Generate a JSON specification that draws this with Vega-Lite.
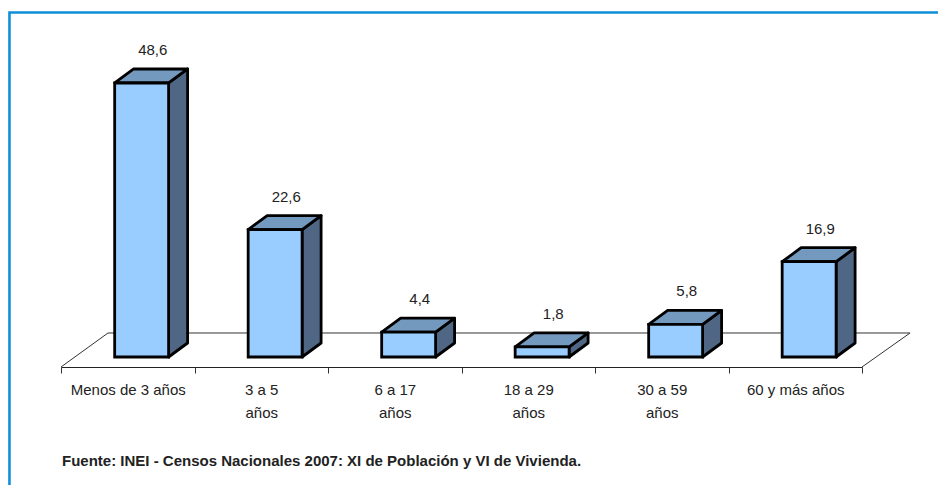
{
"$schema":"https://vega.github.io/schema/vega-lite/v6.json",
"width":801,"height":337,"autosize":"none",
"padding":{"left":61,"top":30,"right":76,"bottom":118},
"background":"white",
"config":{"view":{"stroke":null},"font":"Liberation Sans"},
"datasets":{
"bars":[
{"grupo":"Menos de 3 años","i":0,"pct":48.6},
{"grupo":"3 a 5\naños","i":1,"pct":22.6},
{"grupo":"6 a 17\naños","i":2,"pct":4.4},
{"grupo":"18 a 29\naños","i":3,"pct":1.8},
{"grupo":"30 a 59\naños","i":4,"pct":5.8},
{"grupo":"60 y más años","i":5,"pct":16.9}],
"floor":[{"a":0,"b":-1.774,"n":0},{"a":0.352,"b":4.257,"n":1},{"a":6.36,"b":4.257,"n":2},{"a":6,"b":-1.774,"n":3}],
"frame":[{"a":-0.386,"b":-23.06,"n":0},{"a":-0.386,"b":61.1,"n":1},{"a":6.58,"b":61.1,"n":2}],
"nota":[{"a":0.0075,"b":-18.4,"t":"Fuente: INEI - Censos Nacionales 2007: XI de Población y VI de Vivienda."}]
},
"layer":[
{"layer":[
{"data":{"name":"frame"},"mark":{"type":"line","stroke":"#0F8FD8","strokeWidth":2.6,"clip":false,"strokeJoin":"miter"},
 "encoding":{"x":{"field":"a","type":"quantitative","scale":{"domain":[0,6],"nice":false,"zero":false},
   "axis":{"orient":"bottom","values":[0,1,2,3,4,5,6],"labels":false,"title":null,"grid":false,"tickSize":6,"tickColor":"#333333","domainColor":"#222222","domainWidth":1.2,"tickWidth":1}},
  "y":{"field":"b","type":"quantitative","scale":{"domain":[-1.774,58],"nice":false,"zero":false},"axis":null},
  "order":{"field":"n"}}},
{"data":{"name":"floor"},"mark":{"type":"line","stroke":"#333333","strokeWidth":1,"clip":false},
 "encoding":{"x":{"field":"a","type":"quantitative"},"y":{"field":"b","type":"quantitative"},"order":{"field":"n"}}},
{"data":{"name":"bars"},
 "transform":[{"calculate":"[0,1]","as":"k"},{"flatten":["k"]},
  {"calculate":"datum.i+0.806+datum.k*0.1423","as":"sx"},
  {"calculate":"datum.k*2.483","as":"sy0"},
  {"calculate":"datum.pct+datum.k*2.483","as":"sy1"}],
 "mark":{"type":"area","orient":"vertical","fill":"#4F6785","stroke":"#000000","strokeWidth":2.8,"strokeJoin":"round","clip":false},
 "encoding":{"x":{"field":"sx","type":"quantitative"},"y":{"field":"sy0","type":"quantitative"},"y2":{"field":"sy1"},"detail":{"field":"grupo"}}},
{"data":{"name":"bars"},
 "transform":[{"calculate":"[0,1]","as":"k"},{"flatten":["k"]},
  {"calculate":"datum.i+0.402+datum.k*0.1423","as":"tx0"},
  {"calculate":"datum.i+0.806+datum.k*0.1423","as":"tx1"},
  {"calculate":"datum.pct+datum.k*2.483","as":"ty"}],
 "mark":{"type":"area","orient":"horizontal","fill":"#7399BF","stroke":"#000000","strokeWidth":2.8,"strokeJoin":"round","clip":false},
 "encoding":{"y":{"field":"ty","type":"quantitative"},"x":{"field":"tx0","type":"quantitative"},"x2":{"field":"tx1"},"detail":{"field":"grupo"}}},
{"data":{"name":"bars"},
 "transform":[{"calculate":"datum.i+0.402","as":"fx0"},{"calculate":"datum.i+0.806","as":"fx1"},{"calculate":"0","as":"base"}],
 "mark":{"type":"rect","fill":"#99CCFF","stroke":"#000000","strokeWidth":2.8,"clip":false},
 "encoding":{"x":{"field":"fx0","type":"quantitative"},"x2":{"field":"fx1"},"y":{"field":"pct","type":"quantitative"},"y2":{"field":"base"}}},
{"data":{"name":"nota"},
 "mark":{"type":"text","align":"left","baseline":"middle","font":"Liberation Sans","fontSize":15,"fontWeight":"bold","fill":"#222222","clip":false},
 "encoding":{"x":{"field":"a","type":"quantitative"},"y":{"field":"b","type":"quantitative"},"text":{"field":"t"}}}
]},
{"data":{"name":"bars"},
 "transform":[{"calculate":"datum.pct+2.483","as":"ly"},{"calculate":"replace(format(datum.pct,'.1f'),'.',',')","as":"txt"}],
 "mark":{"type":"text","dx":25,"dy":-19,"baseline":"middle","font":"Liberation Sans","fontSize":15,"fill":"#222222"},
 "encoding":{"x":{"field":"grupo","type":"nominal","sort":null,
   "scale":{"paddingInner":0.6,"paddingOuter":0.3},
   "axis":{"orient":"bottom","title":null,"ticks":false,"domain":false,"grid":false,"labelAngle":0,"labelPadding":15,"labelFontSize":15,"labelFont":"Liberation Sans","labelColor":"#222222","labelLimit":0,"labelLineHeight":23,"labelExpr":"split(datum.label,'\\n')"}},
  "y":{"field":"ly","type":"quantitative"},"text":{"field":"txt"}}}
],
"resolve":{"scale":{"x":"independent"},"axis":{"x":"independent"}}
}
